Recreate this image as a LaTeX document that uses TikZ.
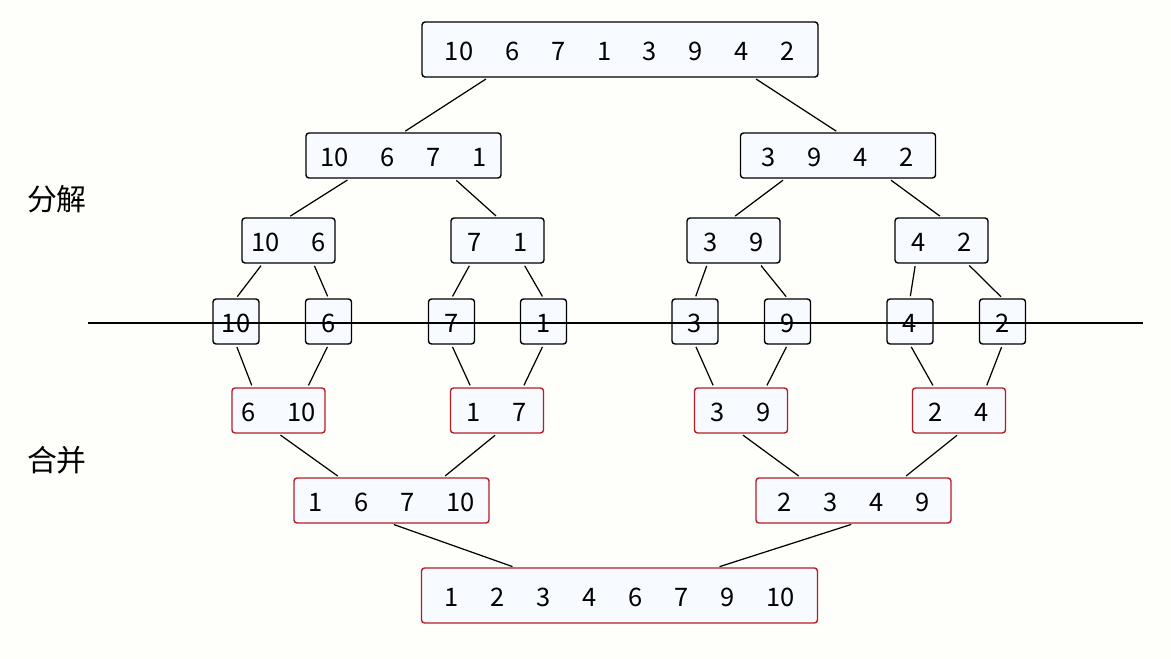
\documentclass[tikz,border=0pt]{standalone}
\usepackage{fontspec}
\setmainfont{Noto Sans CJK SC}
\usetikzlibrary{calc}

\definecolor{bgpaper}{RGB}{254,254,250}
\definecolor{boxfill}{RGB}{247,250,255}
\definecolor{mergered}{RGB}{178,30,38}

\newcommand{\gp}{\hspace{1.25em}}

\tikzset{
  box/.style={draw, fill=boxfill, rounded corners=0.06cm, line width=0.8pt,
    inner sep=0pt, minimum height=0.9cm, text height=0.45cm, text depth=0pt,
    font=\fontsize{14.5}{17}\selectfont},
  splitbox/.style={box, draw=black},
  mergebox/.style={box, draw=mergered},
  wfull/.style={minimum width=7.92cm, minimum height=1.1cm},
  whalf/.style={minimum width=3.9cm},
  wpair/.style={minimum width=1.86cm},
  wsingle/.style={minimum width=0.92cm},
  link/.style={line width=0.7pt, shorten <=1.4pt, shorten >=1.2pt},
  steplabel/.style={font=\fontsize{17}{20}\selectfont, inner sep=0pt},
}

\begin{document}
\begin{tikzpicture}[x=0.02cm,y=-0.02cm]
\fill[bgpaper] (0,0) rectangle (1171,659);
\useasboundingbox (0,0) rectangle (1171,659);

% split
\node[splitbox,wfull] (top) at (620,49.5) {10\gp 6\gp 7\gp 1\gp 3\gp 9\gp 4\gp 2};

\node[splitbox,whalf] (l1a) at (403.5,155.5) {10\gp 6\gp 7\gp 1};
\node[splitbox,whalf] (l1b) at (838,155.5) {3\gp 9\gp 4\gp 2};

\node[splitbox,wpair] (l2a) at (288.5,240.5) {10\gp 6};
\node[splitbox,wpair] (l2b) at (497.5,240.5) {7\gp 1};
\node[splitbox,wpair] (l2c) at (733.5,240.5) {3\gp 9};
\node[splitbox,wpair] (l2d) at (941.5,240.5) {4\gp 2};

\node[splitbox,wsingle] (s1) at (236,321.5) {10};
\node[splitbox,wsingle] (s2) at (328.5,321.5) {6};
\node[splitbox,wsingle] (s3) at (451.5,321.5) {7};
\node[splitbox,wsingle] (s4) at (543.5,321.5) {1};
\node[splitbox,wsingle] (s5) at (695,321.5) {3};
\node[splitbox,wsingle] (s6) at (787.5,321.5) {9};
\node[splitbox,wsingle] (s7) at (910,321.5) {4};
\node[splitbox,wsingle] (s8) at (1002.5,321.5) {2};

% merge
\node[mergebox,wpair] (m1) at (278.5,410.5) {6\gp 10};
\node[mergebox,wpair] (m2) at (497,410.5) {1\gp 7};
\node[mergebox,wpair] (m3) at (741,410.5) {3\gp 9};
\node[mergebox,wpair] (m4) at (959,410.5) {2\gp 4};

\node[mergebox,whalf] (n1) at (391.5,500.5) {1\gp 6\gp 7\gp 10};
\node[mergebox,whalf] (n2) at (853.5,500.5) {2\gp 3\gp 4\gp 9};

\node[mergebox,wfull] (res) at (619.5,595.5) {1\gp 2\gp 3\gp 4\gp 6\gp 7\gp 9\gp 10};

% labels
\node[steplabel] (lsplit) at (57,199) {分解};
\node[steplabel] (lmerge) at (57,460) {合并};

% split links
\draw[link] ($(top.south)+(-132,0)$) -- (l1a.north);
\draw[link] ($(top.south)+(134,0)$) -- (l1b.north);
\draw[link] ($(l1a.south)+(-54,0)$) -- (l2a.north);
\draw[link] ($(l1a.south)+(51,0)$) -- (l2b.north);
\draw[link] ($(l1b.south)+(-53,0)$) -- (l2c.north);
\draw[link] ($(l1b.south)+(51,0)$) -- (l2d.north);
\draw[link] ($(l2a.south)+(-26,0)$) -- (s1.north);
\draw[link] ($(l2a.south)+(25,0)$) -- (s2.north);
\draw[link] ($(l2b.south)+(-27,0)$) -- (s3.north);
\draw[link] ($(l2b.south)+(26,0)$) -- (s4.north);
\draw[link] ($(l2c.south)+(-26,0)$) -- (s5.north);
\draw[link] ($(l2c.south)+(26,0)$) -- (s6.north);
\draw[link] ($(l2d.south)+(-26,0)$) -- (s7.north);
\draw[link] ($(l2d.south)+(26,0)$) -- (s8.north);

% merge links
\draw[link] (s1.south) -- ($(m1.north)+(-26,0)$);
\draw[link] (s2.south) -- ($(m1.north)+(29,0)$);
\draw[link] (s3.south) -- ($(m2.north)+(-26,0)$);
\draw[link] (s4.south) -- ($(m2.north)+(26,0)$);
\draw[link] (s5.south) -- ($(m3.north)+(-27,0)$);
\draw[link] (s6.south) -- ($(m3.north)+(25,0)$);
\draw[link] (s7.south) -- ($(m4.north)+(-25,0)$);
\draw[link] (s8.south) -- ($(m4.north)+(27,0)$);
\draw[link] (m1.south) -- ($(n1.north)+(-52,0)$);
\draw[link] (m2.south) -- ($(n1.north)+(52,0)$);
\draw[link] (m3.south) -- ($(n2.north)+(-53,0)$);
\draw[link] (m4.south) -- ($(n2.north)+(51,0)$);
\draw[link] (n1.south) -- ($(res.north)+(-105,0)$);
\draw[link] (n2.south) -- ($(res.north)+(98,0)$);

% divider
\coordinate (divl) at (88,323);
\coordinate (divr) at (1143,323);
\draw[line width=0.7pt] (divl) -- (divr);
\end{tikzpicture}
\end{document}
